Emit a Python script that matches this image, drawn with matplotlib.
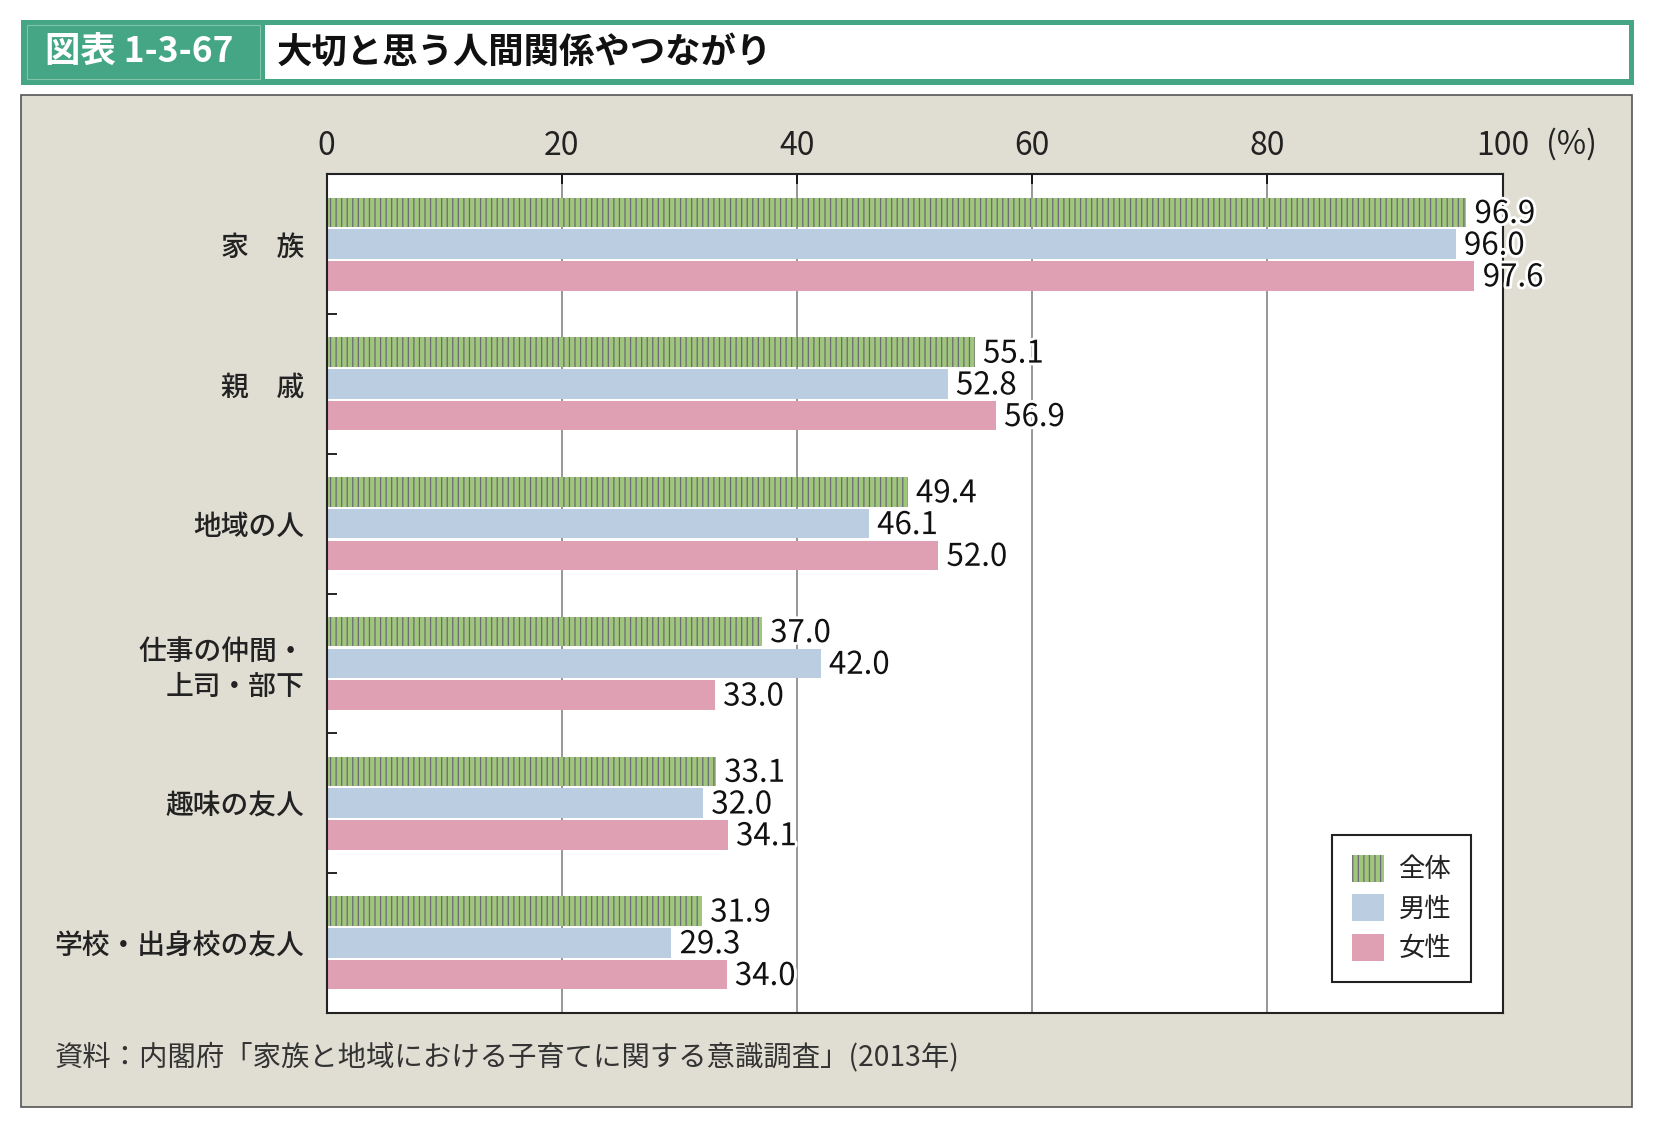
import matplotlib
matplotlib.use("Agg")
import matplotlib.pyplot as plt
import matplotlib.patheffects as pe
from matplotlib.patches import Rectangle, Patch
from matplotlib.legend_handler import HandlerTuple
import numpy as np

plt.rcParams['font.family'] = ['Noto Sans CJK JP', 'DejaVu Sans']
plt.rcParams['hatch.linewidth'] = 0.9

# data
categories = ['家　族', '親　戚', '地域の人', '仕事の仲間・\n上司・部下', '趣味の友人', '学校・出身校の友人']
series_names = ['全体', '男性', '女性']
zentai = [96.9, 55.1, 49.4, 37.0, 33.1, 31.9]
dansei = [96.0, 52.8, 46.1, 42.0, 32.0, 29.3]
josei = [97.6, 56.9, 52.0, 33.0, 34.1, 34.0]
x_ticks = [0, 20, 40, 60, 80, 100]

green = '#a0c67c'
blue = '#bbcde0'
pink = '#e0a0b4'
hatch_col = '#6c6a7a'
panel_bg = '#e0ded3'
title_green = '#44a685'

fig = plt.figure(figsize=(16.56, 11.30), dpi=100)

# gray panel
fig.patches.append(Rectangle((0.0128, 0.0204), 0.9727, 0.8954, transform=fig.transFigure,
                             facecolor=panel_bg, edgecolor='#555555', lw=1.2, zorder=-2))

# title bar
fig.patches.append(Rectangle((0.0128, 0.925), 0.9738, 0.0573, transform=fig.transFigure,
                             facecolor=title_green, edgecolor='none', zorder=-2))
fig.patches.append(Rectangle((0.1600, 0.930), 0.8235, 0.0475, transform=fig.transFigure,
                             facecolor='white', edgecolor='none', zorder=-1))
fig.patches.append(Rectangle((0.0165, 0.930), 0.1405, 0.0475, transform=fig.transFigure,
                             facecolor='none', edgecolor='#80c4a8', lw=0.8, zorder=-1))
fig.text(0.027, 0.954, '図表 1-3-67', color='white', fontsize=25.5, fontweight='bold',
         va='center', ha='left')
fig.text(0.167, 0.954, '大切と思う人間関係やつながり', color='#111111', fontsize=25.5,
         fontweight='bold', va='center', ha='left')

ax = fig.add_axes([0.1973, 0.1038, 0.7101, 0.7419])
ax.set_zorder(2)
ax.set_facecolor('white')

y = np.arange(len(categories))
h = 0.212
step = 0.227

ax.barh(y - step, zentai, height=h, color=green, edgecolor='none', zorder=2)
ax.barh(y - step, zentai, height=h, fill=False, hatch='|||', edgecolor=hatch_col, lw=0, zorder=3)
ax.barh(y, dansei, height=h, color=blue, edgecolor='none', zorder=2)
ax.barh(y + step, josei, height=h, color=pink, edgecolor='none', zorder=2)

stroke = [pe.withStroke(linewidth=4, foreground='white')]
for vals, off in [(zentai, -step), (dansei, 0), (josei, step)]:
    for yi, v in zip(y, vals):
        ax.annotate(f'{v:.1f}', xy=(v, yi + off), xytext=(6, -1), textcoords='offset points',
                    ha='left', va='center', fontsize=22.5, color='#111111',
                    path_effects=stroke, zorder=6, annotation_clip=False)

ax.set_xlim(0, 100)
ax.set_ylim(len(categories) - 0.5, -0.5)

ax.xaxis.tick_top()
ax.set_xticks(x_ticks)
ax.set_xticklabels([str(t) for t in x_ticks], fontsize=23, color='#222222')
ax.tick_params(axis='x', which='major', direction='in', length=7, width=1.2, color='black', pad=9)
ax.text(103.7, 1.0353, '(%)', transform=ax.get_xaxis_transform(), fontsize=23,
        ha='left', va='center', color='#222222')

ax.set_yticks(y)
ax.set_yticklabels(categories, fontsize=20, color='#222222', linespacing=1.25,
                   multialignment='right', fontweight='medium')
ax.set_yticks(np.arange(0.5, len(categories) - 0.5, 1), minor=True)
ax.tick_params(axis='y', which='major', length=0, pad=16)
ax.tick_params(axis='y', which='minor', direction='in', length=7, width=1.2, color='black')

ax.set_axisbelow(True)
ax.xaxis.grid(True, color='#7a7a7a', lw=1.1, zorder=1)
for s in ax.spines.values():
    s.set_color('#222222')
    s.set_linewidth(1.5)
    s.set_zorder(4)

handles = [(Patch(facecolor=green, edgecolor='none'),
            Patch(fill=False, hatch='|||', edgecolor=hatch_col, lw=0)),
           Patch(facecolor=blue, edgecolor='none'),
           Patch(facecolor=pink, edgecolor='none')]
leg = ax.legend(handles, series_names, handler_map={tuple: HandlerTuple(ndivide=1, pad=0)},
                loc='lower right', bbox_to_anchor=(0.973, 0.0366), fontsize=19,
                frameon=True, fancybox=False, edgecolor='#222222', framealpha=1,
                handlelength=1.2, handleheight=1.2, handletextpad=0.55, labelspacing=0.42,
                borderpad=0.75, borderaxespad=0)
leg.get_frame().set_linewidth(1.5)
for t in leg.get_texts():
    t.set_color('#222222')
leg.set_zorder(7)

fig.text(0.0332, 0.0645, '資料：内閣府「家族と地域における子育てに関する意識調査」(2013年)',
         fontsize=20.4, color='#333333', ha='left', va='center')

fig.savefig('out.png', dpi=100)
